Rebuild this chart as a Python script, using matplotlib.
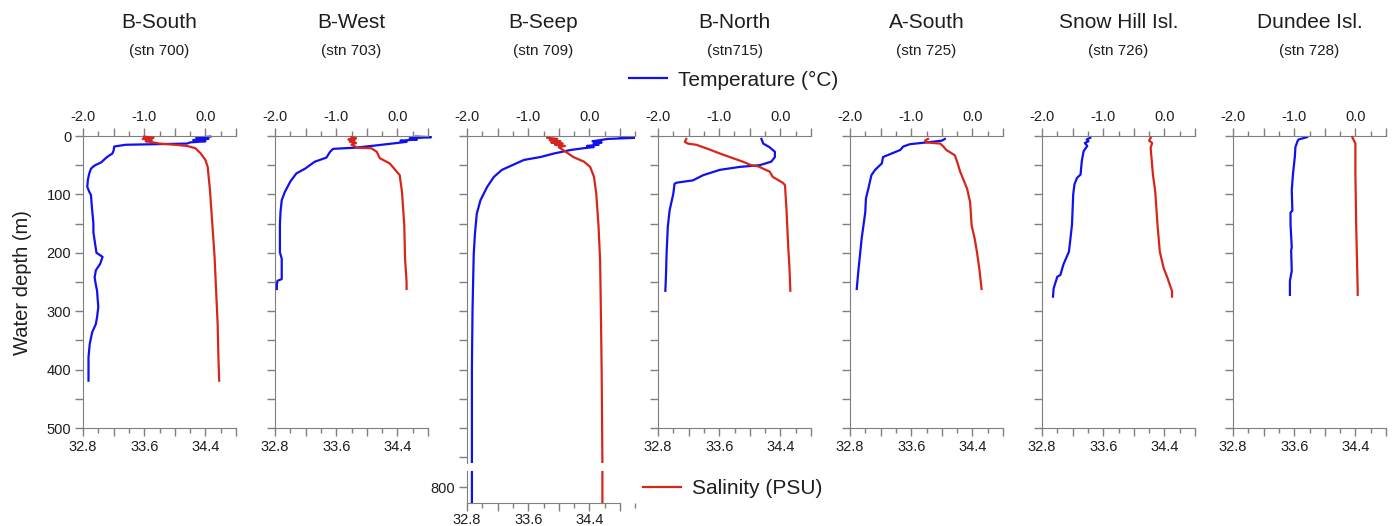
import numpy as np
import matplotlib
matplotlib.use("Agg")
import matplotlib.pyplot as plt
from matplotlib.ticker import MultipleLocator
from matplotlib.lines import Line2D

plt.rcParams['font.family'] = ['Liberation Sans', 'DejaVu Sans']

# ---------------- data ----------------
station_names = ["B-South", "B-West", "B-Seep", "B-North", "A-South", "Snow Hill Isl.", "Dundee Isl."]
station_ids = ["(stn 700)", "(stn 703)", "(stn 709)", "(stn715)", "(stn 725)", "(stn 726)", "(stn 728)"]

temp_ticklabels = ["-2.0", "-1.0", "0.0"]
sal_ticklabels = ["32.8", "33.6", "34.4"]
depth_ticklabels = ["0", "100", "200", "300", "400", "500"]

# B-South (stn 700)
bs_t_depth = [1, 3, 5, 7, 9, 11, 13, 14, 15, 18, 25, 30, 34, 38, 45, 50, 53, 56, 65, 75, 87, 95, 101, 115,
              127, 150, 165, 179, 193, 200, 207, 213, 219, 230, 242, 255, 265, 280, 293, 310, 322, 336,
              356, 379, 400, 419]
bs_temp = [0.08, -0.15, 0.05, -0.2, 0.0, -0.25, -0.3, -0.8, -1.3, -1.49, -1.5, -1.52, -1.58, -1.63, -1.7,
           -1.8, -1.84, -1.87, -1.9, -1.92, -1.93, -1.9, -1.87, -1.86, -1.85, -1.83, -1.83, -1.81, -1.79,
           -1.78, -1.68, -1.70, -1.72, -1.79, -1.81, -1.79, -1.77, -1.76, -1.75, -1.77, -1.79, -1.85,
           -1.89, -1.91, -1.91, -1.91]
bs_s_depth = [1, 3, 5, 7, 9, 11, 13, 15, 17, 21, 30, 41, 53, 93, 150, 207, 265, 322, 379, 419]
bs_sal = [33.6, 33.72, 33.58, 33.7, 33.62, 33.72, 33.8, 34.0, 34.16, 34.27, 34.34, 34.40, 34.43, 34.46,
          34.49, 34.52, 34.54, 34.56, 34.57, 34.58]

# B-West (stn 703)
bw_t_depth = [1, 2, 4, 6, 8, 10, 13, 17, 20, 22, 27, 37, 44, 56, 64, 78, 96, 110, 130, 153, 199, 210,
              245, 248, 255, 262]
bw_temp = [0.3, 0.55, 0.2, 0.32, 0.05, 0.15, -0.09, -0.42, -0.69, -1.05, -1.10, -1.16, -1.35, -1.51,
           -1.65, -1.75, -1.84, -1.89, -1.91, -1.92, -1.92, -1.89, -1.89, -1.96, -1.97, -1.97]
bw_s_depth = [2, 4, 6, 8, 10, 12, 15, 18, 20, 21, 27, 38, 47, 67, 96, 153, 210, 250, 262]
bw_sal = [33.80, 33.86, 33.76, 33.84, 33.78, 33.86, 33.80, 33.85, 33.86, 34.06, 34.13, 34.17, 34.30,
          34.43, 34.46, 34.49, 34.50, 34.52, 34.52]

# B-Seep (stn 709)
bp_t_depth = [2, 3, 5, 7, 9, 11, 13, 15, 17, 19, 21, 24, 30, 36, 41, 50, 58, 70, 87, 110, 133, 167, 202,
              250, 300, 400, 500, 560, 650, 750, 800, 830]
bp_temp = [0.5, 0.78, 0.3, 0.18, 0.05, 0.2, 0.07, 0.15, -0.04, 0.07, -0.1, -0.31, -0.58, -0.80, -1.07,
           -1.26, -1.43, -1.56, -1.67, -1.78, -1.84, -1.87, -1.89, -1.90, -1.91, -1.92, -1.92, -1.92,
           -1.92, -1.92, -1.92, -1.92]
bp_s_depth = [3, 5, 7, 9, 11, 13, 15, 17, 19, 21, 27, 36, 44, 53, 70, 99, 156, 213, 300, 400, 560, 700, 830]
bp_sal = [33.85, 33.98, 33.88, 34.02, 33.9, 34.05, 33.95, 34.08, 34.0, 34.02, 34.09, 34.19, 34.33, 34.41,
          34.46, 34.49, 34.52, 34.54, 34.55, 34.56, 34.57, 34.57, 34.57]

# B-North (stn 715)
bn_t_depth = [5, 13, 19, 27, 36, 44, 50, 53, 58, 67, 76, 80, 82, 99, 127, 156, 202, 240, 265]
bn_temp = [-0.31, -0.28, -0.18, -0.09, -0.09, -0.15, -0.34, -0.67, -0.99, -1.26, -1.43, -1.70, -1.73,
           -1.75, -1.81, -1.84, -1.86, -1.87, -1.88]
bn_s_depth = [5, 10, 13, 15, 21, 30, 38, 44, 50, 52, 61, 70, 80, 84, 127, 184, 230, 265]
bn_sal = [33.17, 33.15, 33.19, 33.30, 33.43, 33.61, 33.78, 33.91, 34.02, 34.11, 34.26, 34.30, 34.43,
          34.46, 34.48, 34.50, 34.52, 34.53]

# A-South (stn 725)
as_t_depth = [5, 8, 11, 14, 18, 24, 36, 47, 58, 67, 90, 107, 130, 153, 176, 207, 227, 262]
as_temp = [-0.45, -0.50, -0.75, -1.02, -1.13, -1.18, -1.46, -1.48, -1.59, -1.65, -1.70, -1.74, -1.75,
           -1.78, -1.81, -1.84, -1.86, -1.89]
as_s_depth = [5, 8, 11, 13, 18, 24, 33, 44, 61, 90, 113, 153, 176, 199, 227, 262]
as_sal = [33.82, 33.78, 33.80, 33.98, 34.02, 34.06, 34.17, 34.20, 34.24, 34.33, 34.37, 34.39, 34.43,
          34.46, 34.49, 34.52]

# Snow Hill Isl. (stn 726)
sh_t_depth = [3, 6, 9, 12, 17, 26, 43, 66, 72, 83, 100, 152, 180, 198, 220, 238, 241, 261, 275]
sh_temp = [-1.21, -1.27, -1.24, -1.30, -1.26, -1.32, -1.35, -1.37, -1.43, -1.47, -1.49, -1.51, -1.54,
           -1.56, -1.65, -1.70, -1.75, -1.81, -1.82]
sh_s_depth = [3, 8, 12, 20, 66, 95, 152, 198, 226, 243, 266, 275]
sh_sal = [34.22, 34.20, 34.24, 34.22, 34.25, 34.28, 34.31, 34.34, 34.39, 34.44, 34.50, 34.50]

# Dundee Isl. (stn 728)
di_t_depth = [2, 6, 10, 19, 36, 65, 93, 128, 131, 151, 191, 196, 231, 248, 272]
di_temp = [-0.79, -0.93, -0.95, -0.98, -0.99, -1.02, -1.04, -1.03, -1.06, -1.06, -1.04, -1.05, -1.04,
           -1.07, -1.07]
di_s_depth = [2, 13, 65, 151, 265, 272]
di_sal = [34.36, 34.40, 34.40, 34.41, 34.43, 34.43]

temp_profiles = [(bs_t_depth, bs_temp), (bw_t_depth, bw_temp), (bp_t_depth, bp_temp), (bn_t_depth, bn_temp),
                 (as_t_depth, as_temp), (sh_t_depth, sh_temp), (di_t_depth, di_temp)]
sal_profiles = [(bs_s_depth, bs_sal), (bw_s_depth, bw_sal), (bp_s_depth, bp_sal), (bn_s_depth, bn_sal),
                (as_s_depth, as_sal), (sh_s_depth, sh_sal), (di_s_depth, di_sal)]

# ---------------- layout ----------------
W, H = 1392, 526
BLUE = "#1010f0"
RED = "#d6261c"
GREY = "#7f7f7f"
TXT = "#1e1e1e"
LW = 1.6

fig = plt.figure(figsize=(W / 100, H / 100), dpi=100)


def rect(left, top, width, height):
    return [left / W, 1 - (top + height) / H, width / W, height / H]


panel_left = [83, 275, 467, 658, 850, 1042, 1233]
PX_PER_C = 61.2
PX_PER_PSU = 76.5
PX_PER_M = 0.584
TOP = 136


def style_ticks(ax, which_axis, pad=3):
    ax.tick_params(axis=which_axis, which="major", direction="out", length=5.5, width=1,
                   color=GREY, labelcolor=TXT, labelsize=10.5, pad=pad)
    ax.tick_params(axis=which_axis, which="minor", direction="out", length=3.5, width=1, color=GREY)


def setup_temp_axis(tax, tmax):
    tax.set_xlim(-2.0, tmax)
    tax.xaxis.set_ticks_position("top")
    tax.xaxis.set_label_position("top")
    tax.set_xticks(np.arange(-2.0, 0.51, 0.5))
    tax.set_xticklabels([temp_ticklabels[0], "", temp_ticklabels[1], "", temp_ticklabels[2], ""])
    tax.xaxis.set_minor_locator(MultipleLocator(0.25))
    style_ticks(tax, "x")
    for s in ["bottom", "right", "left"]:
        tax.spines[s].set_visible(False)
    tax.spines["top"].set_color(GREY)
    tax.tick_params(axis="y", which="both", left=False, right=False, labelleft=False, labelright=False)


def setup_sal_axis(sax, smax, pad=3):
    sax.set_xlim(32.8, smax)
    sax.set_xticks(np.arange(32.8, 34.81, 0.4))
    sax.set_xticklabels([sal_ticklabels[0], "", sal_ticklabels[1], "", sal_ticklabels[2], ""])
    sax.xaxis.set_minor_locator(MultipleLocator(0.2))
    style_ticks(sax, "x", pad=pad)
    sax.spines["bottom"].set_color(GREY)
    sax.spines["bottom"].set_bounds(32.8, 34.8)


for i in range(7):
    left = panel_left[i]
    td, tv = temp_profiles[i]
    sd, sv = sal_profiles[i]
    if i != 2:
        width = 2.5 * PX_PER_C
        dmax = 500
        ax = fig.add_axes(rect(left, TOP, width, dmax * PX_PER_M))
        ax.set_ylim(dmax, 0)
        ax.spines["top"].set_visible(False)
        ax.spines["right"].set_visible(False)
        ax.spines["left"].set_color(GREY)
        ax.yaxis.set_major_locator(MultipleLocator(100))
        ax.yaxis.set_minor_locator(MultipleLocator(50))
        style_ticks(ax, "y")
        ax.tick_params(axis="y", which="minor", length=5.5)
        if i == 0:
            ax.set_yticks(np.arange(0, 501, 100))
            ax.set_yticklabels(depth_ticklabels)
        else:
            ax.tick_params(axis="y", labelleft=False)
        tax = ax.twiny()
        sax = ax.twiny()
        setup_sal_axis(ax, 32.8 + width / PX_PER_PSU)
        setup_temp_axis(tax, -2.0 + width / PX_PER_C)
        tax.set_ylim(dmax, 0)
        tax.plot(tv, td, color=BLUE, lw=LW, clip_on=False, solid_joinstyle="round")
        # salinity drawn above temperature
        sax.set_xlim(ax.get_xlim())
        sax.set_ylim(dmax, 0)
        sax.axis("off")
        sax.plot(sv, sd, color=RED, lw=LW, clip_on=False, solid_joinstyle="round")
    else:
        width = 2.75 * PX_PER_C
        smax = 32.8 + width / PX_PER_PSU
        # main (upper) segment
        dmax = 560
        ax = fig.add_axes(rect(left, TOP, width, dmax * PX_PER_M))
        tax = ax.twiny()
        sax = ax.twiny()
        ax.set_ylim(dmax, 0)
        ax.set_xlim(32.8, smax)
        for s in ["top", "right", "bottom"]:
            ax.spines[s].set_visible(False)
        ax.spines["left"].set_color(GREY)
        ax.yaxis.set_major_locator(MultipleLocator(50))
        style_ticks(ax, "y")
        ax.tick_params(axis="y", labelleft=False)
        ax.tick_params(axis="x", which="both", bottom=False, top=False, labelbottom=False, labeltop=False)
        setup_temp_axis(tax, -2.0 + width / PX_PER_C)
        tax.set_ylim(dmax, 0)
        tax.plot(tv, td, color=BLUE, lw=LW, clip_on=True, solid_joinstyle="round")
        sax.set_xlim(32.8, smax)
        sax.set_ylim(dmax, 0)
        sax.axis("off")
        sax.plot(sv, sd, color=RED, lw=LW, clip_on=True)
        # lower segment (broken axis)
        lo_top, lo_bot = 772.6, 827.4
        ax2 = fig.add_axes(rect(left, 471, width, (lo_bot - lo_top) * PX_PER_M))
        tax2 = ax2.twiny()
        ax2.set_ylim(lo_bot, lo_top)
        setup_sal_axis(ax2, smax, pad=1.5)
        ax2.spines["top"].set_visible(False)
        ax2.spines["right"].set_visible(False)
        ax2.spines["left"].set_color(GREY)
        ax2.set_yticks([800])
        style_ticks(ax2, "y")
        tax2.set_xlim(-2.0, -2.0 + width / PX_PER_C)
        tax2.set_ylim(lo_bot, lo_top)
        tax2.axis("off")
        tax2.plot(tv, td, color=BLUE, lw=LW)
        ax2.plot(sv, sd, color=RED, lw=LW)

    cx = left + 2.5 * PX_PER_C / 2
    fig.text(cx / W, 1 - 22 / H, station_names[i], ha="center", va="center", fontsize=15, color=TXT)
    fig.text(cx / W, 1 - 51 / H, station_ids[i], ha="center", va="center", fontsize=11, color=TXT)

fig.text(22 / W, 1 - 283 / H, "Water depth (m)", rotation=90, ha="center", va="center",
         fontsize=14.5, color=TXT)

h_t = Line2D([], [], color=BLUE, lw=1.6)
h_s = Line2D([], [], color=RED, lw=1.6)
fig.legend(handles=[h_t], labels=["Temperature (\u00b0C)"], loc="center left",
           bbox_to_anchor=(629 / W, 1 - 80 / H), frameon=False, fontsize=15,
           handlelength=1.8, handletextpad=0.55, borderpad=0, borderaxespad=0, labelcolor=TXT)
fig.legend(handles=[h_s], labels=["Salinity (PSU)"], loc="center left",
           bbox_to_anchor=(643 / W, 1 - 489 / H), frameon=False, fontsize=15,
           handlelength=1.8, handletextpad=0.55, borderpad=0, borderaxespad=0, labelcolor=TXT)

fig.savefig("out.png", dpi=100)
